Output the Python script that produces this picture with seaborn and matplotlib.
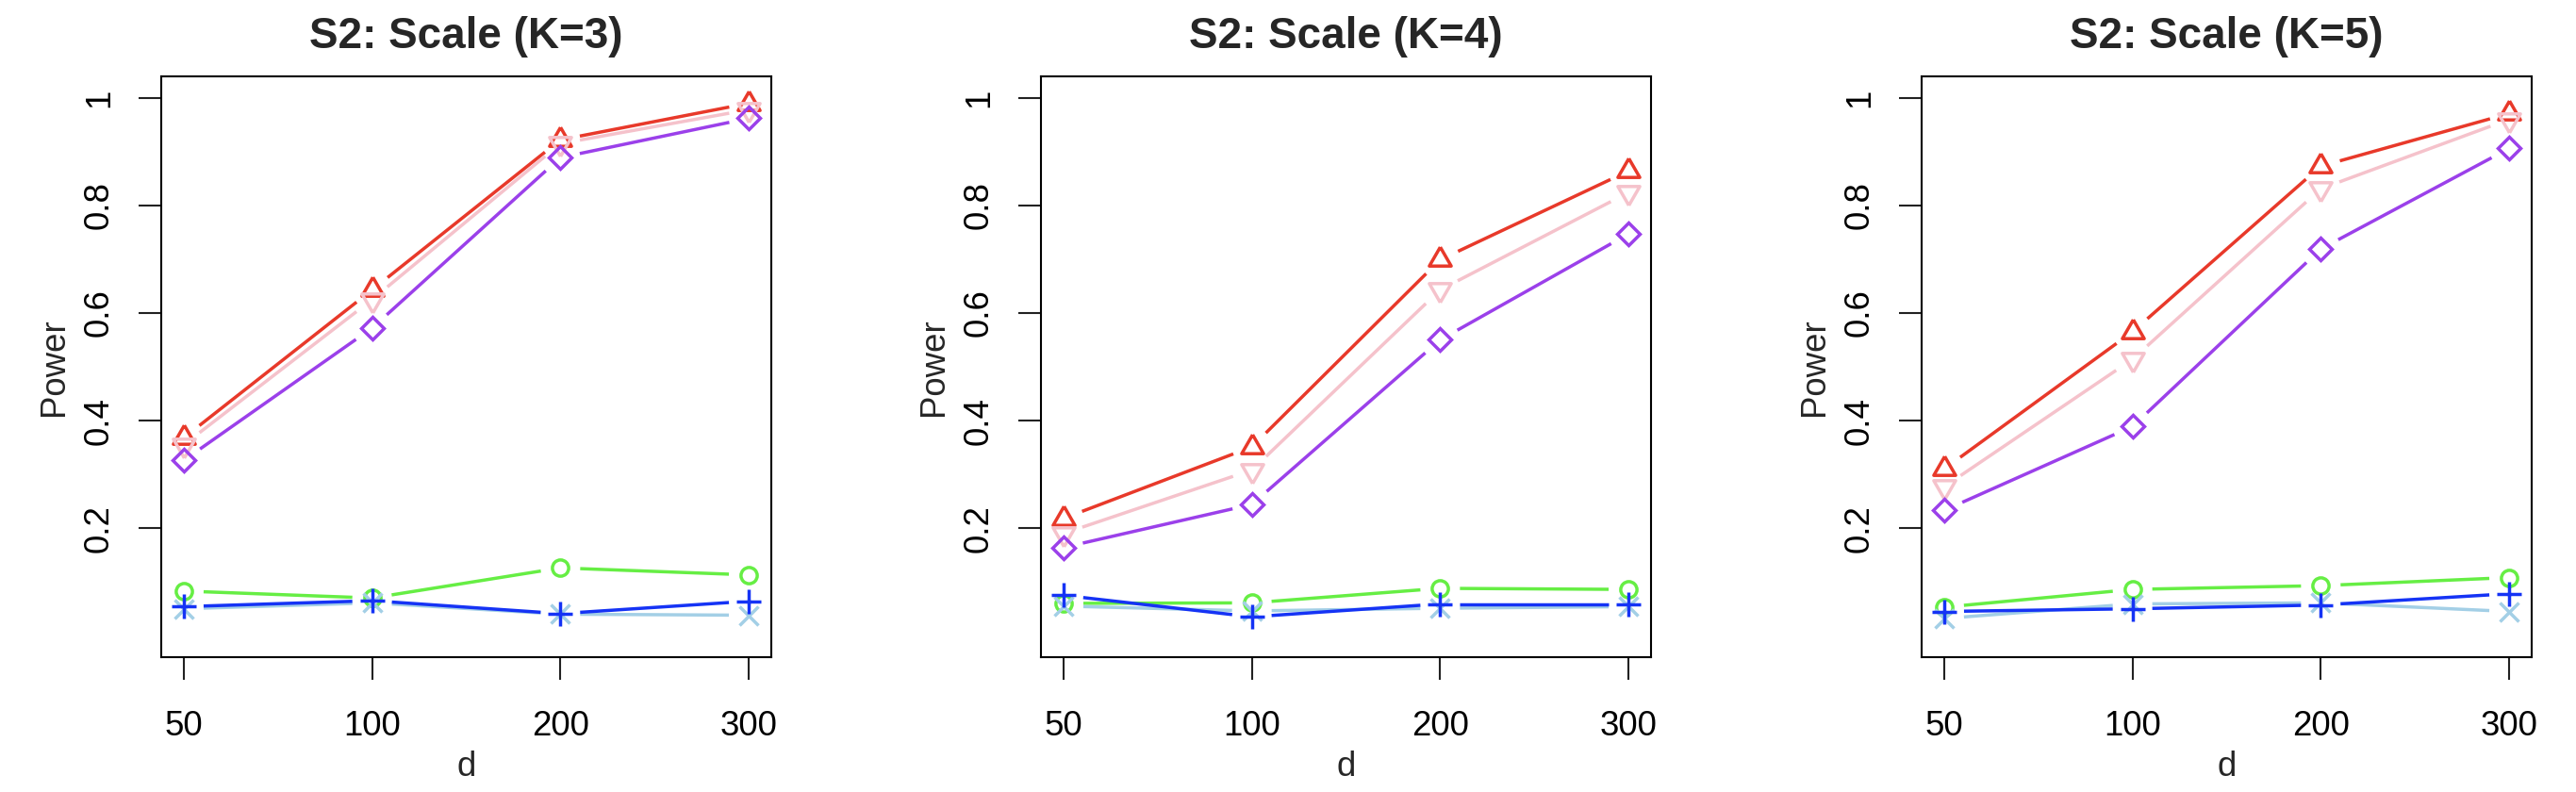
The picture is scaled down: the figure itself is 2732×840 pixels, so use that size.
import numpy as np
import pandas as pd
import matplotlib
matplotlib.use("Agg")
import matplotlib.pyplot as plt
import seaborn as sns

# x categories and panels
d_labels = ["50", "100", "200", "300"]
x_pos = [1, 2, 3, 4]
titles = ["S2: Scale (K=3)", "S2: Scale (K=4)", "S2: Scale (K=5)"]

# power values, one row per panel (K=3, K=4, K=5)
green_circle = [[0.083, 0.070, 0.126, 0.113],
                [0.060, 0.061, 0.088, 0.086],
                [0.053, 0.086, 0.093, 0.108]]
lightblue_x = [[0.050, 0.061, 0.040, 0.038],
               [0.055, 0.046, 0.051, 0.054],
               [0.032, 0.059, 0.061, 0.045]]
blue_plus = [[0.054, 0.065, 0.041, 0.064],
             [0.075, 0.035, 0.059, 0.059],
             [0.045, 0.050, 0.057, 0.078]]
red_up = [[0.368, 0.643, 0.922, 0.990],
          [0.218, 0.351, 0.699, 0.864],
          [0.310, 0.565, 0.873, 0.971]]
pink_down = [[0.355, 0.625, 0.915, 0.978],
             [0.190, 0.308, 0.643, 0.824],
             [0.277, 0.514, 0.831, 0.960]]
purple_diamond = [[0.326, 0.572, 0.889, 0.962],
                  [0.164, 0.244, 0.550, 0.747],
                  [0.233, 0.389, 0.719, 0.906]]

# R style triangles (centroid at the data point)
tri_up = [(0, 1.555), (-1.347, -0.778), (1.347, -0.778), (0, 1.555)]
tri_down = [(0, -1.555), (-1.347, 0.778), (1.347, 0.778), (0, -1.555)]

# name, values, colour, marker, markersize (pt)
series = [
    ("green", green_circle, "#66EE44", "o", 12.4),
    ("lightblue", lightblue_x, "#A3CFE6", "x", 13.7),
    ("blue", blue_plus, "#1533F5", "+", 18.7),
    ("red", red_up, "#E8392A", tri_up, 19.3),
    ("pink", pink_down, "#F5C2CB", tri_down, 19.3),
    ("purple", purple_diamond, "#9B40EA", "D", 12.4),
]

rows = []
for name, vals, *_ in series:
    for k in range(len(titles)):
        for x, v in zip(x_pos, vals[k]):
            rows.append({"panel": k, "method": name, "x": x, "power": v})
df = pd.DataFrame(rows)

sns.set_style("white")
plt.rcParams["font.family"] = ["Liberation Sans", "DejaVu Sans"]

W, H = 2732, 840
fig = plt.figure(figsize=(W / 100, H / 100), dpi=100)
lefts = [171, 1104, 2038]
gap = 21  # px gap around points, like type="b"
lw = 2.5

for k, title in enumerate(titles):
    ax = fig.add_axes([lefts[k] / W, (H - 697) / H, 647 / W, 616 / H])
    ax.set_xlim(0.88, 4.12)
    ax.set_ylim(-0.04, 1.04)

    for name, vals, col, mk, ms in series:
        sub = df[(df.panel == k) & (df.method == name)]
        pts = ax.transData.transform(np.column_stack([sub.x, sub.power]))
        inv = ax.transData.inverted()
        for p0, p1 in zip(pts[:-1], pts[1:]):
            v = p1 - p0
            L = np.hypot(v[0], v[1])
            if L <= 2 * gap:
                continue
            u = v / L
            seg = inv.transform(np.array([p0 + u * gap, p1 - u * gap]))
            ax.plot(seg[:, 0], seg[:, 1], color=col, lw=lw, solid_capstyle="butt")
        sns.lineplot(data=sub, x="x", y="power", ax=ax, color=col, marker=mk,
                     linestyle="none", markersize=ms, mfc="none", mec=col, mew=lw)

    ax.set_xlim(0.88, 4.12)
    ax.set_ylim(-0.04, 1.04)
    ax.set_xticks(x_pos, d_labels)
    ax.set_yticks([0.2, 0.4, 0.6, 0.8, 1.0], ["0.2", "0.4", "0.6", "0.8", "1"])
    for sp in ax.spines.values():
        sp.set_visible(True)
        sp.set_color("black")
        sp.set_linewidth(1.5)
    ax.tick_params(axis="both", direction="out", length=17.3, width=1.5,
                   color="#222222", labelsize=26.4, labelcolor="black",
                   bottom=True, left=True)
    ax.tick_params(axis="x", pad=23)
    ax.tick_params(axis="y", pad=17.3, labelrotation=90)
    for lab in ax.get_yticklabels():
        lab.set_verticalalignment("center")

    ax.set_title(title, fontsize=33, fontweight="bold", pad=21.6)
    ax.set_xlabel("d", fontsize=26.4)
    ax.set_ylabel("Power", fontsize=26.4)
    ax.xaxis.set_label_coords(0.5, -0.1607)
    ax.yaxis.set_label_coords(-0.149, 0.5)

fig.savefig("out.png", dpi=100)
